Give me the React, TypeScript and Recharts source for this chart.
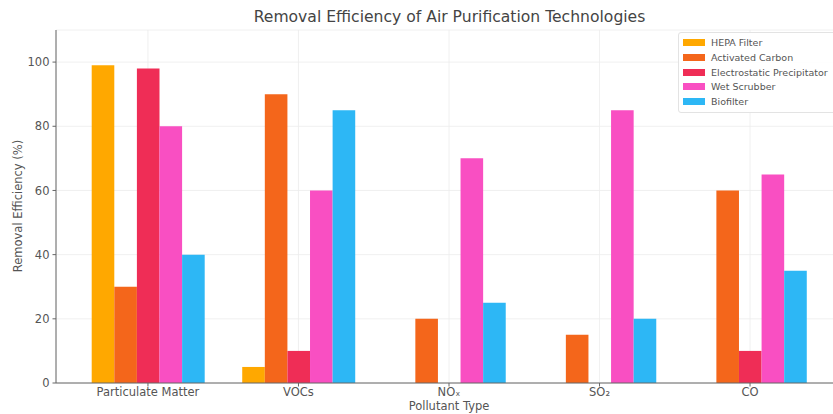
import React from "react";
import { BarChart, Bar, XAxis, YAxis, CartesianGrid, Legend } from "recharts";

const categories = ["Particulate Matter", "VOCs", "NOₓ", "SO₂", "CO"];
const hepa = [99, 5, 0, 0, 0];
const activatedCarbon = [30, 90, 20, 15, 60];
const electrostatic = [98, 10, 0, 0, 10];
const wetScrubber = [80, 60, 70, 85, 65];
const biofilter = [40, 85, 25, 20, 35];
const yTicks = [0, 20, 40, 60, 80, 100];

const seriesNames = ["HEPA Filter", "Activated Carbon", "Electrostatic Precipitator", "Wet Scrubber", "Biofilter"];
const seriesKeys = ["hepa", "ac", "ep", "ws", "bf"];
const colors = ["#FFA800", "#F4661B", "#EF2D56", "#F94FC2", "#2DB7F5"];

const data = categories.map((c, i) => ({
  name: c,
  hepa: hepa[i],
  ac: activatedCarbon[i],
  ep: electrostatic[i],
  ws: wetScrubber[i],
  bf: biofilter[i],
}));

const font = "'DejaVu Sans', sans-serif";
const textColor = "#555";

const LegendBox = () => (
  <div
    style={{
      position: "absolute",
      left: 678,
      top: 32,
      width: 160,
      height: 81,
      border: "1px solid #e3e3e3",
      borderRadius: 3,
      background: "rgba(255,255,255,0.9)",
      fontFamily: font,
      fontSize: 9.5,
      color: textColor,
      boxSizing: "border-box",
      padding: "2.5px 0 0 4px",
      whiteSpace: "nowrap",
    }}
  >
    {seriesNames.map((n, i) => (
      <div key={n} style={{ display: "flex", alignItems: "center", height: 14.7 }}>
        <span style={{ display: "inline-block", width: 22, height: 7, background: colors[i], marginRight: 6 }} />
        <span>{n}</span>
      </div>
    ))}
  </div>
);

export default function App() {
  return (
    <>
      <style>{"html,body{margin:0;padding:0;overflow:hidden;}"}</style>
      <div style={{ width: 833, height: 414, overflow: "hidden", position: "relative", background: "#fff" }}>
        <div
          style={{
            position: "absolute",
            left: 449.5,
            top: 8,
            transform: "translateX(-50%)",
            whiteSpace: "nowrap",
            fontFamily: font,
            fontSize: 15.6,
            color: "#444",
            lineHeight: "18px",
          }}
        >
          Removal Efficiency of Air Purification Technologies
        </div>
        <BarChart
          width={860}
          height={414}
          data={data}
          margin={{ top: 30, right: 18, bottom: 0, left: 0 }}
          barGap={0}
          barSize={22.6}
        >
          <CartesianGrid stroke="#ececec" strokeWidth={0.8} />
          <XAxis
            dataKey="name"
            height={31}
            padding={{ left: 16.7, right: 16.7 }}
            tick={{ fontFamily: font, fontSize: 11.5, fill: textColor }}
            tickSize={3.5}
            tickMargin={1}
            tickLine={{ stroke: "#666" }}
            axisLine={{ stroke: "#666" }}
            interval={0}
          />
          <YAxis
            width={56}
            domain={[0, 110]}
            ticks={yTicks}
            tick={{ fontFamily: font, fontSize: 11.5, fill: textColor }}
            tickSize={3.5}
            tickMargin={3}
            tickLine={{ stroke: "#666" }}
            axisLine={{ stroke: "#666" }}
          />
          {seriesKeys.map((k, i) => (
            <Bar key={k} dataKey={k} name={seriesNames[i]} fill={colors[i]} isAnimationActive={false} />
          ))}
          <Legend content={() => null} />
        </BarChart>
        <div
          style={{
            position: "absolute",
            left: 449,
            top: 399,
            transform: "translateX(-50%)",
            whiteSpace: "nowrap",
            fontFamily: font,
            fontSize: 11.5,
            color: textColor,
            lineHeight: "14px",
          }}
        >
          Pollutant Type
        </div>
        <div
          style={{
            position: "absolute",
            left: 18,
            top: 206,
            transform: "translate(-50%, -50%) rotate(-90deg)",
            whiteSpace: "nowrap",
            fontFamily: font,
            fontSize: 11.5,
            color: textColor,
            lineHeight: "14px",
          }}
        >
          Removal Efficiency (%)
        </div>
        <LegendBox />
      </div>
    </>
  );
}
